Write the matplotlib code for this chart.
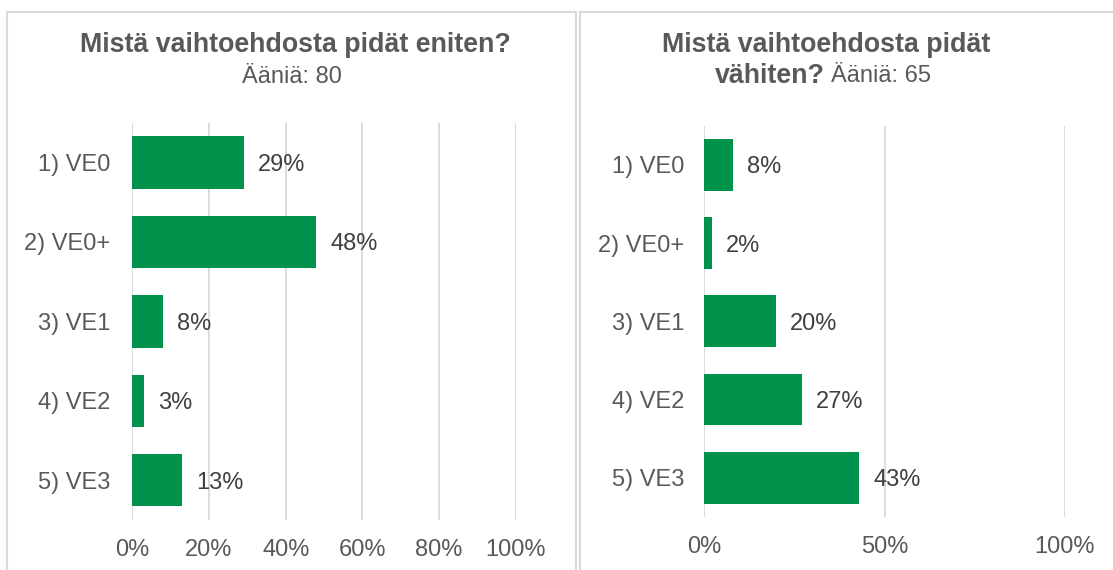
import matplotlib
matplotlib.use('Agg')
import matplotlib.pyplot as plt
from matplotlib.patches import Rectangle

plt.rcParams['font.family'] = ['Liberation Sans', 'DejaVu Sans']

# data
categories = ['1) VE0', '2) VE0+', '3) VE1', '4) VE2', '5) VE3']
most_liked = [29, 48, 8, 3, 13]
least_liked = [8, 2, 20, 27, 43]
ticks_left = [0, 20, 40, 60, 80, 100]
ticks_right = [0, 50, 100]

green = '#00914A'
grid_c = '#D9D9D9'
text_c = '#595959'
label_c = '#404040'

W, H = 1113, 570
fig = plt.figure(figsize=(W / 100, H / 100), dpi=100)


def px(x0, y0, x1, y1):
    # pixel box (top-left origin) -> figure fraction rect
    return [x0 / W, 1 - y1 / H, (x1 - x0) / W, (y1 - y0) / H]


# panel borders
for x0, x1 in [(6.5, 575.5), (579.5, 1130)]:
    fig.patches.append(Rectangle((x0 / W, -0.05), (x1 - x0) / W, 1.05 - 11.5 / H,
                                 transform=fig.transFigure, fill=False,
                                 ec=grid_c, lw=1.5))

ax1 = fig.add_axes(px(132.3, 122.6, 515.8, 520))
ax2 = fig.add_axes(px(704.3, 125.6, 1064.7, 517))


def draw(ax, vals, ticks, ypad):
    y = list(range(len(categories)))
    ax.barh(y, vals, height=0.66, color=green, zorder=2)
    ax.set_ylim(len(categories) - 0.5, -0.5)
    ax.set_xlim(0, 100)
    ax.set_xticks(ticks)
    ax.set_xticklabels([f'{t}%' for t in ticks])
    ax.set_yticks(y)
    ax.set_yticklabels(categories)
    ax.grid(axis='x', color=grid_c, lw=1.3, zorder=0)
    for s in ax.spines.values():
        s.set_visible(False)
    ax.tick_params(length=0, labelsize=17, colors=text_c)
    ax.tick_params(axis='y', pad=ypad)
    ax.tick_params(axis='x', pad=13.5)
    for i, v in enumerate(vals):
        ax.annotate(f'{v}%', (v, i), xytext=(10, 0), textcoords='offset points',
                    va='center_baseline', ha='left', fontsize=17, color=label_c)


draw(ax1, most_liked, ticks_left, 16)
draw(ax2, least_liked, ticks_right, 14.5)

# titles
fig.text(295 / W, 1 - 45 / H, 'Mistä vaihtoehdosta pidät eniten?', ha='center',
         va='center', weight='bold', size=19.3, color=text_c)
fig.text(292 / W, 1 - 77 / H, 'Ääniä: 80', ha='center', va='center',
         size=17, color=text_c)

fig.text(826 / W, 1 - 45 / H, 'Mistä vaihtoehdosta pidät', ha='center',
         va='center', weight='bold', size=19.3, color=text_c)
t1 = fig.text(0, 1 - 76 / H, 'vähiten?', ha='left', va='center',
              weight='bold', size=19.3, color=text_c)
t2 = fig.text(0, 1 - 76 / H, 'Ääniä: 65', ha='left', va='center',
              size=17, color=text_c)
r = fig.canvas.get_renderer()
w1 = t1.get_window_extent(r).width
w2 = t2.get_window_extent(r).width
gap = 6
start = 823 - (w1 + gap + w2) / 2
t1.set_x(start / W)
t2.set_x((start + w1 + gap) / W)

fig.savefig('out.png', dpi=100)
